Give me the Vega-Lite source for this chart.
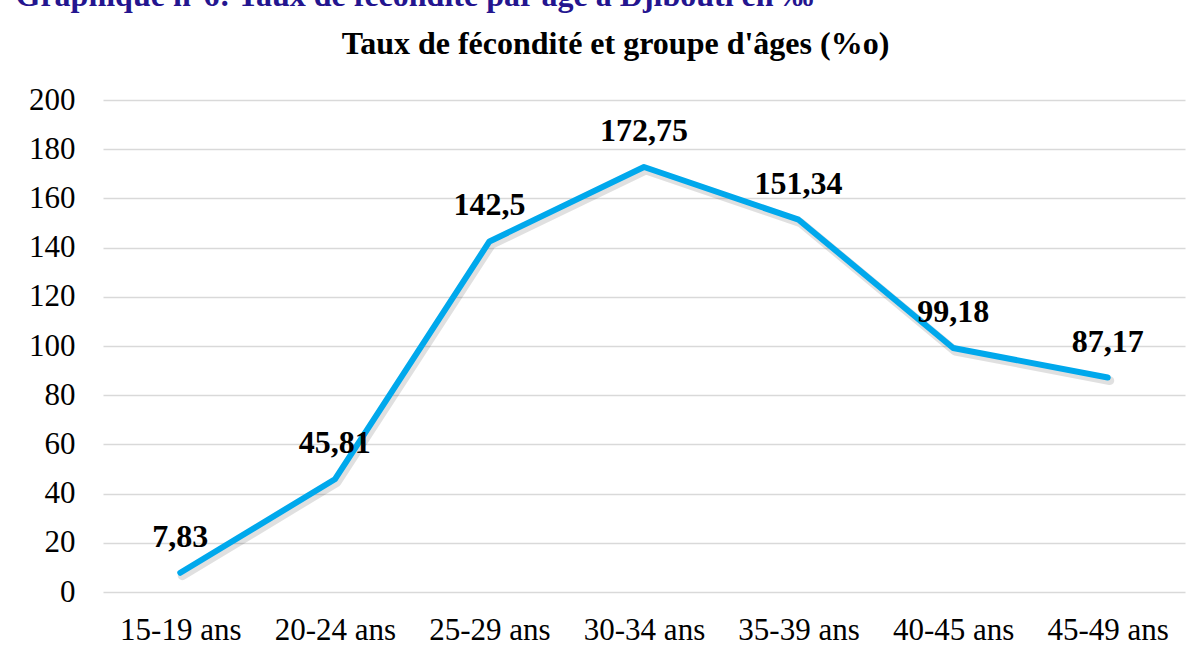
{
  "$schema": "https://vega.github.io/schema/vega-lite/v6.json",
  "autosize": "none",
  "width": 1082,
  "height": 492,
  "padding": {"left": 103, "top": 100, "right": 16, "bottom": 64},
  "background": "white",
  "data": {
    "values": [
      {"groupe": "15-19 ans", "taux": 7.83, "label": "7,83"},
      {"groupe": "20-24 ans", "taux": 45.81, "label": "45,81"},
      {"groupe": "25-29 ans", "taux": 142.5, "label": "142,5"},
      {"groupe": "30-34 ans", "taux": 172.75, "label": "172,75"},
      {"groupe": "35-39 ans", "taux": 151.34, "label": "151,34"},
      {"groupe": "40-45 ans", "taux": 99.18, "label": "99,18"},
      {"groupe": "45-49 ans", "taux": 87.17, "label": "87,17"}
    ]
  },
  "encoding": {
    "x": {
      "field": "groupe",
      "type": "ordinal",
      "sort": null,
      "scale": {"paddingInner": 0, "paddingOuter": 0.5},
      "axis": {
        "title": "Taux de fécondité et groupe d'âges (%o)",
        "titleAngle": 0,
        "titleAlign": "center",
        "titleBaseline": "alphabetic",
        "titleX": 512,
        "titleY": -539,
        "titleFont": "Liberation Serif",
        "titleFontSize": 32,
        "titleFontWeight": "bold",
        "titleColor": "#000000",
        "labelAngle": 0,
        "domain": false,
        "ticks": false,
        "grid": false,
        "labelFont": "Liberation Serif",
        "labelFontSize": 31,
        "labelColor": "#000000",
        "labelPadding": 23
      }
    },
    "y": {
      "field": "taux",
      "type": "quantitative",
      "scale": {"domain": [0, 200], "nice": false},
      "axis": {
        "title": "Graphique n°6: Taux de fécondité par âge à Djibouti en ‰",
        "titleAngle": 0,
        "titleAlign": "left",
        "titleBaseline": "alphabetic",
        "titleX": -88,
        "titleY": -95,
        "titleFont": "Liberation Serif",
        "titleFontSize": 32,
        "titleFontWeight": "bold",
        "titleColor": "#24158F",
        "values": [0, 20, 40, 60, 80, 100, 120, 140, 160, 180, 200],
        "domain": false,
        "ticks": false,
        "gridColor": "#d9d9d9",
        "gridWidth": 1.5,
        "labelFont": "Liberation Serif",
        "labelFontSize": 31,
        "labelColor": "#000000",
        "labelPadding": 28
      }
    }
  },
  "layer": [
    {
      "mark": {"type": "line", "color": "#000000", "opacity": 0.12, "strokeWidth": 9, "strokeCap": "round", "strokeJoin": "round", "xOffset": 2, "yOffset": 3}
    },
    {
      "mark": {"type": "line", "color": "#00A8EC", "strokeWidth": 6, "strokeCap": "round", "strokeJoin": "round"}
    },
    {
      "mark": {
        "type": "text",
        "font": "Liberation Serif",
        "fontSize": 32,
        "fontWeight": "bold",
        "color": "#000000",
        "dy": -36
      },
      "encoding": {"text": {"field": "label"}}
    }
  ],
  "config": {"view": {"stroke": null}}
}
